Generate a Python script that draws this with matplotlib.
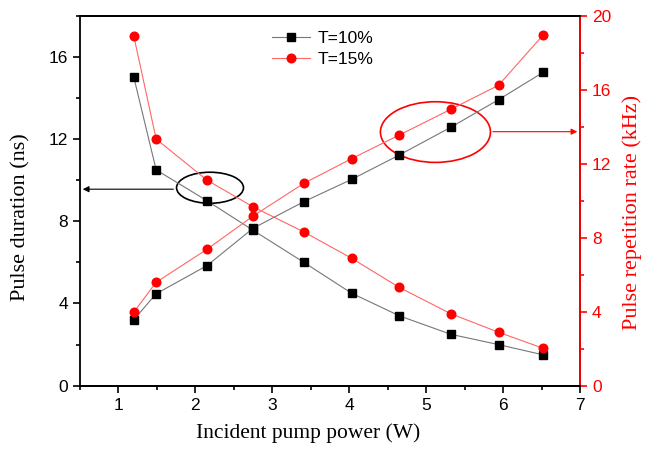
import matplotlib
matplotlib.use('Agg')
import matplotlib.pyplot as plt
from matplotlib.patches import Ellipse
from matplotlib.ticker import MultipleLocator

# incident pump power (W)
power = [1.2, 1.49, 2.15, 2.75, 3.41, 4.03, 4.65, 5.32, 5.94, 6.52]

# pulse duration (ns), left axis
dur_10 = [15.0, 10.5, 9.0, 7.56, 6.0, 4.5, 3.4, 2.5, 2.0, 1.5]
dur_15 = [17.0, 12.0, 10.0, 8.7, 7.48, 6.2, 4.78, 3.5, 2.6, 1.82]

# pulse repetition rate (kHz), right axis
rate_10 = [3.57, 4.97, 6.49, 8.51, 9.95, 11.15, 12.47, 13.97, 15.46, 16.94]
rate_15 = [3.98, 5.59, 7.37, 9.17, 10.94, 12.27, 13.55, 14.94, 16.24, 18.96]

labels = ['T=10%', 'T=15%']

sans = 'Liberation Sans'
serif = 'Liberation Serif'

fig = plt.figure(figsize=(6.54, 4.5), dpi=100)
ax = fig.add_axes([0.1223, 0.1429, 0.7647, 0.8222])
ax2 = ax.twinx()

# left axis: pulse duration
l1, = ax.plot(power, dur_10, color='#777777', lw=0.8, marker='s', ms=5.5,
              mfc='black', mec='black', label=labels[0])
l2, = ax.plot(power, dur_15, color='#ff6666', lw=0.8, marker='o', ms=6.2,
              mfc='red', mec='red', label=labels[1])

# right axis: repetition rate
ax2.plot(power, rate_10, color='#777777', lw=0.8, marker='s', ms=5.5,
         mfc='black', mec='black')
ax2.plot(power, rate_15, color='#ff6666', lw=0.8, marker='o', ms=6.2,
         mfc='red', mec='red')

ax.set_xlim(0.5, 7)
ax.set_ylim(0, 18)
ax2.set_ylim(0, 20)

ax.xaxis.set_major_locator(MultipleLocator(1))
ax.xaxis.set_minor_locator(MultipleLocator(0.5))
ax.yaxis.set_major_locator(MultipleLocator(4))
ax.yaxis.set_minor_locator(MultipleLocator(2))
ax2.yaxis.set_major_locator(MultipleLocator(4))
ax2.yaxis.set_minor_locator(MultipleLocator(2))

ax.tick_params(which='major', direction='out', length=5, width=1.2, labelsize=12.5)
ax.tick_params(which='minor', direction='out', length=3, width=1.2)
ax2.tick_params(which='major', direction='out', length=5, width=1.2, labelsize=12.5,
                colors='red')
ax2.tick_params(which='minor', direction='out', length=3, width=1.2, colors='red')
for t in ax.get_xticklabels() + ax.get_yticklabels() + ax2.get_yticklabels():
    t.set_fontfamily(sans)

for s in ax.spines.values():
    s.set_linewidth(1.3)
for s in ax2.spines.values():
    s.set_linewidth(1.3)
ax2.spines['right'].set_color('red')
ax2.spines['left'].set_visible(False)

ax.set_xlabel('Incident pump power (W)', fontsize=15.5, family=serif,
              va='center')
ax.xaxis.set_label_coords(0.456, -0.128)
ax.set_ylabel('Pulse duration (ns)', fontsize=16, family=serif,
              va='center', ha='center')
ax.yaxis.set_label_coords(-0.118, 0.456)
ax2.set_ylabel('Pulse repetition rate (kHz)', fontsize=16, family=serif,
               color='red', va='center', ha='center')
ax2.yaxis.set_label_coords(1.104, 0.469)

leg = ax.legend(handles=[l1, l2], loc='upper center', bbox_to_anchor=(0.485, 1.0),
                frameon=False, prop={'family': sans, 'size': 12.5},
                handlelength=2.2, handletextpad=0.4, labelspacing=0.3)

# annotations: ellipses with arrows pointing to the axes
ax.add_patch(Ellipse((2.19, 9.63), 0.87, 1.51, fill=False, ec='black', lw=1.2))
ax.annotate('', xy=(0.5, 9.56), xytext=(1.75, 9.56),
            arrowprops=dict(arrowstyle='-|>', color='black', lw=0.8,
                            mutation_scale=9))
ax2.add_patch(Ellipse((5.12, 13.71), 1.43, 3.28, fill=False, ec='red', lw=1.2))
ax2.annotate('', xy=(7, 13.73), xytext=(5.83, 13.73),
             arrowprops=dict(arrowstyle='-|>', color='red', lw=0.8,
                             mutation_scale=9))

fig.savefig('out.png', dpi=100)
